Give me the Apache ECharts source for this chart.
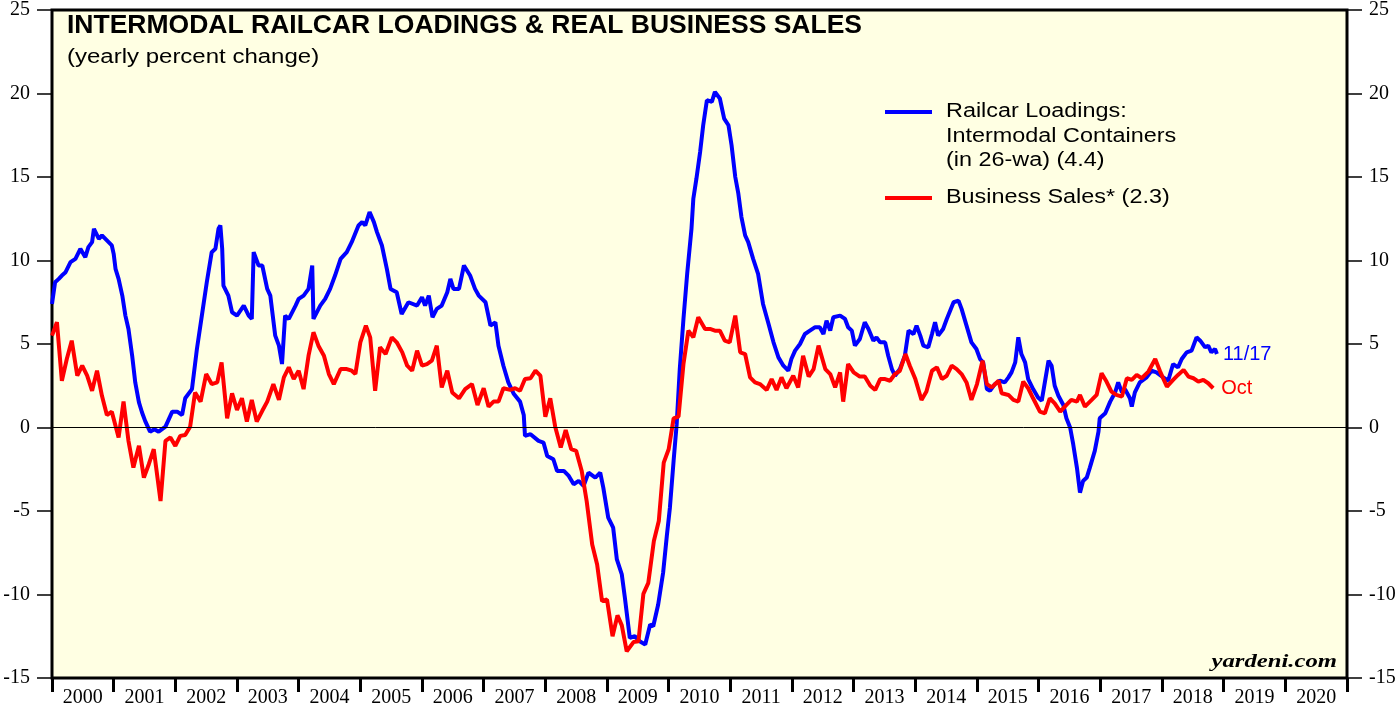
<!DOCTYPE html>
<html>
<head>
<meta charset="utf-8">
<title>Intermodal Railcar Loadings & Real Business Sales</title>
<script src="https://cdn.jsdelivr.net/npm/echarts@6/dist/echarts.min.js"></script>
<style>
  html, body { margin: 0; padding: 0; background: #ffffff; }
  #chart { width: 1399px; height: 708px; }
</style>
</head>
<body>
<div id="chart"></div>
<script>
// year labels along the bottom
const yearLabels = ['2000', '2001', '2002', '2003', '2004', '2005', '2006', '2007', '2008', '2009',
    '2010', '2011', '2012', '2013', '2014', '2015', '2016', '2017', '2018', '2019', '2020'];

// Railcar loadings: intermodal containers, 26-wa, yearly % change  [decimal year, value]
const railcar = [
    [2000.00, 7.4], [2000.05, 8.7], [2000.11, 8.9], [2000.16, 9.1], [2000.22, 9.3], [2000.30, 9.9],
    [2000.38, 10.1], [2000.46, 10.7], [2000.54, 10.2], [2000.59, 10.8], [2000.65, 11.1], [2000.68, 11.9],
    [2000.76, 11.3], [2000.81, 11.5], [2000.89, 11.2], [2000.97, 10.9], [2001.00, 10.4], [2001.03, 9.5],
    [2001.08, 8.9], [2001.14, 7.9], [2001.19, 6.7], [2001.24, 5.9], [2001.30, 4.3], [2001.35, 2.7],
    [2001.41, 1.5], [2001.46, 0.9], [2001.51, 0.4], [2001.59, -0.25], [2001.66, -0.1], [2001.73, -0.25],
    [2001.84, 0.05], [2001.95, 0.95], [2002.03, 0.95], [2002.11, 0.75], [2002.16, 1.75], [2002.27, 2.3],
    [2002.35, 4.7], [2002.43, 6.7], [2002.51, 8.7], [2002.59, 10.5], [2002.65, 10.7], [2002.70, 11.9],
    [2002.73, 12.1], [2002.76, 10.7], [2002.78, 8.5], [2002.86, 7.9], [2002.92, 6.9], [2003.00, 6.7],
    [2003.11, 7.3], [2003.19, 6.7], [2003.24, 6.5], [2003.27, 10.5], [2003.35, 9.7], [2003.41, 9.7],
    [2003.49, 8.3], [2003.54, 7.9], [2003.62, 5.5], [2003.68, 4.9], [2003.73, 3.8], [2003.78, 6.7],
    [2003.84, 6.5], [2003.95, 7.3], [2004.00, 7.7], [2004.08, 7.9], [2004.16, 8.3], [2004.22, 9.7],
    [2004.24, 6.5], [2004.35, 7.3], [2004.43, 7.7], [2004.51, 8.3], [2004.59, 9.1], [2004.68, 10.1],
    [2004.78, 10.5], [2004.86, 11.1], [2004.97, 12.1], [2005.03, 12.3], [2005.08, 12.1], [2005.15, 12.9],
    [2005.22, 12.3], [2005.27, 11.7], [2005.35, 10.9], [2005.43, 9.5], [2005.49, 8.3], [2005.59, 8.1],
    [2005.67, 6.8], [2005.78, 7.5], [2005.92, 7.3], [2006.00, 7.8], [2006.05, 7.3], [2006.11, 7.9],
    [2006.17, 6.6], [2006.24, 7.1], [2006.32, 7.3], [2006.41, 8.1], [2006.46, 8.9], [2006.51, 8.3],
    [2006.60, 8.3], [2006.68, 9.7], [2006.78, 9.1], [2006.86, 8.3], [2006.92, 7.9], [2007.03, 7.5],
    [2007.11, 6.1], [2007.19, 6.3], [2007.24, 4.9], [2007.32, 3.7], [2007.40, 2.7], [2007.49, 2.0],
    [2007.59, 1.55], [2007.65, 0.75], [2007.67, -0.5], [2007.76, -0.4], [2007.89, -0.8], [2007.97, -0.9],
    [2008.03, -1.7], [2008.13, -1.9], [2008.19, -2.6], [2008.30, -2.6], [2008.38, -2.9], [2008.46, -3.4],
    [2008.54, -3.2], [2008.62, -3.5], [2008.70, -2.7], [2008.81, -3.0], [2008.89, -2.7], [2008.94, -3.6],
    [2009.02, -5.4], [2009.10, -6.0], [2009.16, -7.9], [2009.24, -8.8], [2009.29, -10.2], [2009.37, -12.6],
    [2009.45, -12.5], [2009.53, -12.8], [2009.62, -13.0], [2009.70, -11.8], [2009.75, -11.9], [2009.83, -10.6],
    [2009.91, -8.7], [2009.97, -6.5], [2010.02, -4.8], [2010.08, -2.0], [2010.13, 0.2], [2010.18, 3.5],
    [2010.24, 6.5], [2010.30, 9.2], [2010.37, 11.9], [2010.40, 13.7], [2010.45, 14.9], [2010.51, 16.5],
    [2010.56, 18.1], [2010.62, 19.6], [2010.70, 19.5], [2010.75, 20.1], [2010.83, 19.7], [2010.90, 18.5],
    [2010.97, 18.1], [2011.02, 16.9], [2011.08, 15.0], [2011.13, 14.0], [2011.18, 12.6], [2011.24, 11.5],
    [2011.29, 11.1], [2011.37, 10.1], [2011.45, 9.2], [2011.53, 7.4], [2011.62, 6.2], [2011.70, 5.1],
    [2011.78, 4.2], [2011.86, 3.7], [2011.94, 3.4], [2011.99, 4.1], [2012.05, 4.6], [2012.13, 5.0],
    [2012.21, 5.6], [2012.29, 5.8], [2012.37, 6.0], [2012.45, 6.0], [2012.51, 5.6], [2012.56, 6.4],
    [2012.62, 5.8], [2012.67, 6.6], [2012.78, 6.7], [2012.86, 6.5], [2012.91, 6.0], [2012.97, 5.8],
    [2013.02, 4.9], [2013.10, 5.3], [2013.18, 6.3], [2013.24, 5.9], [2013.32, 5.2], [2013.37, 5.4],
    [2013.43, 5.1], [2013.51, 5.1], [2013.56, 4.3], [2013.62, 3.5], [2013.67, 3.1], [2013.75, 3.5],
    [2013.83, 4.3], [2013.89, 5.8], [2013.97, 5.6], [2014.02, 6.1], [2014.08, 5.5], [2014.13, 4.9],
    [2014.21, 4.8], [2014.27, 5.6], [2014.32, 6.3], [2014.37, 5.5], [2014.45, 5.9], [2014.51, 6.5],
    [2014.62, 7.5], [2014.70, 7.6], [2014.75, 7.1], [2014.83, 6.1], [2014.91, 5.1], [2014.99, 4.7],
    [2015.05, 4.1], [2015.10, 3.9], [2015.16, 2.3], [2015.21, 2.2], [2015.29, 2.6], [2015.37, 2.8],
    [2015.45, 2.7], [2015.51, 3.0], [2015.56, 3.3], [2015.62, 3.9], [2015.67, 5.4], [2015.72, 4.4],
    [2015.78, 3.9], [2015.83, 2.9], [2015.91, 2.3], [2015.99, 1.8], [2016.05, 1.6], [2016.10, 2.7],
    [2016.16, 4.0], [2016.21, 3.7], [2016.26, 2.5], [2016.32, 1.9], [2016.40, 1.35], [2016.45, 0.55],
    [2016.51, 0.0], [2016.56, -1.0], [2016.62, -2.4], [2016.67, -3.9], [2016.72, -3.2], [2016.78, -3.0],
    [2016.83, -2.4], [2016.91, -1.4], [2016.97, -0.25], [2016.99, 0.55], [2017.08, 0.85], [2017.16, 1.55],
    [2017.24, 2.1], [2017.29, 2.7], [2017.35, 2.1], [2017.40, 2.3], [2017.48, 1.75], [2017.51, 1.25],
    [2017.56, 2.1], [2017.64, 2.7], [2017.75, 3.0], [2017.83, 3.4], [2017.91, 3.3], [2018.02, 3.0],
    [2018.10, 2.8], [2018.18, 3.8], [2018.26, 3.6], [2018.32, 4.1], [2018.40, 4.5], [2018.48, 4.6],
    [2018.56, 5.4], [2018.62, 5.2], [2018.70, 4.8], [2018.75, 4.9], [2018.80, 4.5], [2018.86, 4.7],
    [2018.89, 4.4]
];

// Real business sales, yearly % change (monthly)  [decimal year, value]
const sales = [
    [2000.00, 5.5], [2000.08, 6.3], [2000.16, 2.8], [2000.24, 4.1], [2000.32, 5.2], [2000.41, 3.1],
    [2000.49, 3.7], [2000.57, 3.1], [2000.65, 2.2], [2000.73, 3.4], [2000.81, 1.9], [2000.89, 0.75],
    [2000.97, 0.95], [2001.08, -0.6], [2001.16, 1.55], [2001.24, -0.8], [2001.32, -2.4], [2001.41, -1.1],
    [2001.49, -3.0], [2001.57, -2.2], [2001.65, -1.3], [2001.76, -4.4], [2001.84, -0.8], [2001.92, -0.6],
    [2002.00, -1.1], [2002.08, -0.5], [2002.16, -0.45], [2002.24, 0.05], [2002.32, 2.1], [2002.41, 1.55],
    [2002.50, 3.2], [2002.59, 2.6], [2002.68, 2.7], [2002.75, 3.9], [2002.84, 0.55], [2002.92, 2.05],
    [2003.00, 1.05], [2003.08, 1.75], [2003.16, 0.35], [2003.24, 1.65], [2003.32, 0.35], [2003.41, 1.0],
    [2003.49, 1.55], [2003.59, 2.6], [2003.68, 1.65], [2003.76, 3.0], [2003.84, 3.6], [2003.92, 2.9],
    [2004.00, 3.4], [2004.08, 2.3], [2004.16, 4.3], [2004.24, 5.7], [2004.32, 4.9], [2004.41, 4.3],
    [2004.49, 3.2], [2004.57, 2.6], [2004.68, 3.5], [2004.78, 3.5], [2004.86, 3.4], [2004.92, 3.2],
    [2005.00, 5.1], [2005.09, 6.1], [2005.16, 5.4], [2005.24, 2.2], [2005.32, 4.8], [2005.41, 4.4],
    [2005.51, 5.4], [2005.59, 5.1], [2005.68, 4.5], [2005.76, 3.7], [2005.84, 3.4], [2005.92, 4.6],
    [2006.00, 3.7], [2006.08, 3.8], [2006.16, 4.0], [2006.24, 4.9], [2006.32, 2.4], [2006.41, 3.4],
    [2006.49, 2.1], [2006.60, 1.75], [2006.70, 2.3], [2006.81, 2.6], [2006.90, 1.35], [2007.00, 2.35],
    [2007.08, 1.25], [2007.16, 1.55], [2007.24, 1.55], [2007.32, 2.35], [2007.43, 2.25], [2007.51, 2.35],
    [2007.59, 2.2], [2007.67, 2.9], [2007.76, 2.95], [2007.84, 3.4], [2007.92, 3.1], [2008.00, 0.65],
    [2008.08, 1.75], [2008.16, 0.05], [2008.25, -1.2], [2008.33, -0.15], [2008.42, -1.3], [2008.50, -1.4],
    [2008.59, -2.6], [2008.67, -4.4], [2008.76, -7.0], [2008.84, -8.2], [2008.92, -10.4], [2009.00, -10.3],
    [2009.09, -12.5], [2009.17, -11.25], [2009.24, -11.85], [2009.32, -13.4], [2009.43, -12.85], [2009.51, -12.8],
    [2009.59, -9.96], [2009.67, -9.3], [2009.76, -6.8], [2009.84, -5.6], [2009.92, -2.1], [2010.00, -1.3],
    [2010.08, 0.55], [2010.16, 0.65], [2010.24, 3.8], [2010.32, 5.8], [2010.40, 5.4], [2010.48, 6.6],
    [2010.59, 5.9], [2010.67, 5.9], [2010.75, 5.8], [2010.83, 5.8], [2010.91, 5.2], [2010.99, 5.1],
    [2011.08, 6.7], [2011.16, 4.5], [2011.24, 4.4], [2011.32, 3.0], [2011.40, 2.7], [2011.48, 2.6],
    [2011.59, 2.25], [2011.67, 2.9], [2011.75, 2.25], [2011.83, 3.0], [2011.91, 2.35], [2012.02, 3.1],
    [2012.10, 2.4], [2012.18, 4.3], [2012.27, 3.05], [2012.35, 3.5], [2012.43, 4.9], [2012.54, 3.5],
    [2012.62, 3.2], [2012.70, 2.4], [2012.78, 3.3], [2012.83, 1.55], [2012.91, 3.8], [2013.00, 3.3],
    [2013.10, 3.05], [2013.18, 3.05], [2013.27, 2.5], [2013.35, 2.25], [2013.43, 2.9], [2013.51, 2.9],
    [2013.59, 2.8], [2013.67, 3.2], [2013.75, 3.4], [2013.84, 4.4], [2013.91, 3.7], [2014.00, 2.9],
    [2014.10, 1.65], [2014.18, 2.15], [2014.27, 3.4], [2014.35, 3.6], [2014.43, 2.9], [2014.51, 3.1],
    [2014.59, 3.7], [2014.67, 3.5], [2014.75, 3.2], [2014.83, 2.7], [2014.91, 1.65], [2015.00, 2.6],
    [2015.09, 4.0], [2015.16, 2.6], [2015.24, 2.4], [2015.35, 2.8], [2015.40, 2.05], [2015.51, 1.95],
    [2015.59, 1.65], [2015.67, 1.55], [2015.75, 2.75], [2015.83, 2.35], [2015.91, 1.75], [2016.02, 0.95],
    [2016.10, 0.85], [2016.18, 1.75], [2016.26, 1.45], [2016.35, 0.95], [2016.45, 1.35], [2016.53, 1.65],
    [2016.62, 1.55], [2016.67, 1.95], [2016.75, 1.25], [2016.86, 1.65], [2016.94, 1.95], [2017.02, 3.25],
    [2017.10, 2.75], [2017.18, 2.15], [2017.26, 1.95], [2017.35, 1.85], [2017.43, 2.95], [2017.51, 2.85],
    [2017.59, 3.15], [2017.67, 2.95], [2017.78, 3.35], [2017.89, 4.1], [2017.97, 3.35], [2018.08, 2.45],
    [2018.18, 2.85], [2018.26, 3.15], [2018.35, 3.45], [2018.43, 3.05], [2018.51, 2.95], [2018.59, 2.75],
    [2018.67, 2.85], [2018.75, 2.65], [2018.83, 2.35]
];

const legendRailcar = ['Railcar Loadings:', 'Intermodal Containers', '(in 26-wa) (4.4)'];
const legendSales = ['Business Sales* (2.3)'];

const sansFont = '"Liberation Sans", Arial, Helvetica, sans-serif';
const serifFont = '"Liberation Serif", "Times New Roman", Times, serif';

let chartDom = document.getElementById('chart');
let myChart = echarts.init(chartDom, null, { renderer: 'canvas' });

// legend drawn by hand so the swatch sits on the first text line
let legendItems = [
    { type: 'line', shape: { x1: 885, y1: 112, x2: 932, y2: 112 }, style: { stroke: '#0000ff', lineWidth: 4 } },
    { type: 'line', shape: { x1: 885, y1: 198, x2: 932, y2: 198 }, style: { stroke: '#ff0000', lineWidth: 4 } }
];
legendRailcar.forEach((t, i) => {
    legendItems.push({
        type: 'text', x: 946, y: 112 + i * 24.5, scaleX: 1.2,
        style: { text: t, font: '19.5px ' + sansFont, fill: '#000', textAlign: 'left', textVerticalAlign: 'middle' }
    });
});
legendSales.forEach((t, i) => {
    legendItems.push({
        type: 'text', x: 946, y: 198 + i * 24.5, scaleX: 1.2,
        style: { text: t, font: '19.5px ' + sansFont, fill: '#000', textAlign: 'left', textVerticalAlign: 'middle' }
    });
});

let option = {
    animation: false,
    backgroundColor: '#ffffff',
    grid: {
        left: 52, right: 52, top: 6, bottom: 30,
        show: true,
        backgroundColor: '#ffffe3',
        borderColor: '#000',
        borderWidth: 3
    },
    xAxis: [
        {
            type: 'value',
            min: 2000, max: 2021, interval: 1,
            position: 'bottom',
            axisLine: { show: false, onZero: false },
            axisTick: { show: true, inside: false, length: 14, lineStyle: { color: '#000', width: 3 } },
            axisLabel: { show: false },
            splitLine: { show: false }
        },
        {
            type: 'category',
            data: yearLabels,
            boundaryGap: true,
            position: 'bottom',
            axisLine: { show: false, onZero: false },
            axisTick: { show: false },
            axisLabel: { show: true, margin: 10, color: '#000', fontSize: 20, fontFamily: serifFont },
            splitLine: { show: false }
        }
    ],
    yAxis: [
        {
            type: 'value', position: 'left',
            min: -15, max: 25, interval: 5,
            axisLine: { show: false },
            axisTick: { show: true, inside: false, length: 15, lineStyle: { color: '#000', width: 1.5 } },
            axisLabel: { margin: 22, color: '#000', fontSize: 20, fontFamily: serifFont },
            splitLine: { show: false }
        },
        {
            type: 'value', position: 'right',
            min: -15, max: 25, interval: 5,
            axisLine: { show: false },
            axisTick: { show: true, inside: false, length: 15, lineStyle: { color: '#000', width: 1.5 } },
            axisLabel: { margin: 22, color: '#000', fontSize: 20, fontFamily: serifFont },
            splitLine: { show: false }
        }
    ],
    graphic: {
        elements: [
            {
                type: 'text', x: 67, y: 26, z: 10,
                style: {
                    text: 'INTERMODAL RAILCAR LOADINGS & REAL BUSINESS SALES',
                    font: 'bold 26.5px ' + sansFont, fill: '#000', textAlign: 'left', textVerticalAlign: 'middle'
                }
            },
            {
                type: 'text', x: 67, y: 57, z: 10, scaleX: 1.2,
                style: {
                    text: '(yearly percent change)',
                    font: '20px ' + sansFont, fill: '#000', textAlign: 'left', textVerticalAlign: 'middle'
                }
            },
            {
                type: 'text', x: 1337, y: 662, z: 10, scaleX: 1.3,
                style: {
                    text: 'yardeni.com',
                    font: 'italic bold 19px ' + serifFont, fill: '#000', textAlign: 'right', textVerticalAlign: 'middle'
                }
            },
            { type: 'group', z: 10, children: legendItems }
        ]
    },
    series: [
        {
            name: 'Railcar Loadings: Intermodal Containers (in 26-wa) (4.4)',
            type: 'line',
            xAxisIndex: 0, yAxisIndex: 0,
            data: railcar,
            showSymbol: false,
            lineStyle: { color: '#0000ff', width: 4 },
            itemStyle: { color: '#0000ff' },
            endLabel: { show: true, formatter: '11/17', color: '#0000ff', fontSize: 20, fontFamily: sansFont, distance: 6 },
            markLine: {
                silent: true,
                symbol: 'none',
                label: { show: false },
                lineStyle: { color: '#000', width: 1, type: 'solid' },
                data: [{ yAxis: 0 }]
            },
            z: 2
        },
        {
            name: 'Business Sales* (2.3)',
            type: 'line',
            xAxisIndex: 0, yAxisIndex: 0,
            data: sales,
            showSymbol: false,
            lineStyle: { color: '#ff0000', width: 4 },
            itemStyle: { color: '#ff0000' },
            endLabel: { show: true, formatter: 'Oct', color: '#ff0000', fontSize: 20, fontFamily: sansFont, distance: 8 },
            z: 3
        }
    ]
};

option && myChart.setOption(option);
</script>
</body>
</html>
